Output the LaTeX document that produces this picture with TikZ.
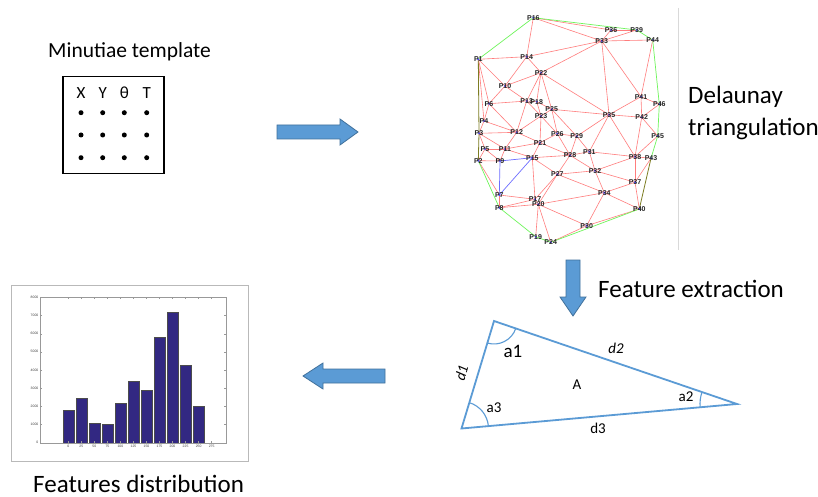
\documentclass[tikz,border=0pt]{standalone}
\usepackage{fontspec}
\setmainfont{Carlito}
\newfontfamily\labfont{Liberation Sans}
\definecolor{tri}{RGB}{91,155,213}
\definecolor{arrfill}{RGB}{91,155,213}
\definecolor{arredge}{RGB}{65,113,156}
\definecolor{redE}{RGB}{255,125,125}
\definecolor{greenE}{RGB}{110,245,90}
\definecolor{blueE}{RGB}{110,110,255}
\definecolor{olivE}{RGB}{125,125,35}
\definecolor{barc}{RGB}{50,40,130}
\tikzset{
  title/.style={font=\fontsize{25}{29}\selectfont, inner sep=0pt, anchor=base west},
  head/.style={font=\fontsize{17}{20}\selectfont, inner sep=0pt, anchor=base},
  tlab/.style={font=\labfont\bfseries\fontsize{7}{8}\selectfont, inner sep=0pt, text=black!85},
  redge/.style={draw=redE, line width=0.6pt},
  gedge/.style={draw=greenE, line width=0.7pt},
  bedge/.style={draw=blueE, line width=0.7pt},
  oedge/.style={draw=olivE, line width=0.8pt},
  blockarrow/.style={fill=arrfill, draw=arredge, line width=0.8pt, line join=miter},
  triline/.style={draw=tri, line width=1.8pt},
  triarc/.style={draw=tri, line width=1.1pt},
  tri15/.style={font=\fontsize{15}{18}\selectfont, inner sep=0pt},
  hlab/.style={font=\labfont\fontsize{3.4}{4}\selectfont, inner sep=0pt, text=black!75},
}
\begin{document}
\begin{tikzpicture}[x=1pt,y=-1pt]
\useasboundingbox (0,0) rectangle (818,497);
\fill[white] (0,0) rectangle (818,497);

% ---------- Minutiae template ----------
\node[font=\fontsize{21.5}{25}\selectfont, inner sep=0pt, anchor=base west] (mt) at (48,57.5) {Minutiae template};
\draw[line width=1.6pt] (62.7,76.7) rectangle (164,173.3);
\node[head] (hx) at (81,98.3) {X};
\node[head] (hy) at (102.7,98.3) {Y};
\node[head] (ht) at (124.3,98.3) {θ};
\node[head] (hT) at (146.7,98.3) {T};
\foreach \x in {81,102.7,124.3,146.7}
  \foreach \y in {112.7,135,157.7}
    \fill (\x,\y) circle (2.5);

% ---------- block arrows ----------
\draw[blockarrow] (277,125)--(340,125)--(340,119)--(358,132)--(340,145)--(340,139)--(277,139)--cycle;
\draw[blockarrow] (566,260)--(580,260)--(580,297)--(586,297)--(573,316)--(560,297)--(566,297)--cycle;
\draw[blockarrow] (385,369)--(323,369)--(323,363)--(303,376)--(323,389)--(323,383)--(385,383)--cycle;

% ---------- Delaunay triangulation ----------
\draw[gray!30, line width=0.8pt] (678.3,8) -- (678.3,250);
\foreach \n/\x/\y in {
 1/478.3/59.3, 2/478.3/160.7, 3/479/133.3, 4/484/121, 5/485/149, 6/489/103.7,
 7/499.3/195, 8/499.3/207.7, 9/500/161, 10/505/86, 11/505/149, 12/516.7/132.3,
 13/526.7/101, 14/526.7/56.7, 15/532.3/157.7, 16/533.3/17.7, 17/535/199.3,
 18/536.7/101.7, 19/535.7/236.7, 20/538.3/204.3, 21/540/142.7, 22/541/72.7,
 23/541/116, 24/550.7/242.3, 25/551.7/109.3, 26/557.3/133.7, 27/557.3/174.3,
 28/570/155.3, 29/576.7/136.3, 30/586.7/225.7, 31/589.3/151.7, 32/595/170.7,
 33/601.7/41, 34/604.3/192.7, 35/609/114.7, 36/611/30, 37/635/182.3,
 38/635/156.7, 39/636.7/30, 40/639.3/209, 41/641/96.7, 42/641.7/117.3,
 43/651/158.3, 44/652.7/40, 45/657.7/136, 46/659.3/104.3}
  \coordinate (P\n) at (\x,\y);

\foreach \a/\b in {1/14,16/14,16/33,14/33,16/36,36/33,36/39,39/33,33/44,14/22,22/33,
 1/10,14/10,10/22,22/35,33/35,33/41,35/41,44/41,41/46,41/42,42/46,35/42,42/45,42/38,
 45/38,35/38,38/43,43/37,38/37,37/40,
 1/6,10/6,1/4,6/4,4/3,10/13,6/13,22/13,22/18,13/18,22/25,18/25,25/35,6/12,13/12,
 4/12,3/12,13/23,18/23,12/23,25/23,23/26,25/26,25/29,26/29,29/35,23/21,12/21,21/26,
 3/11,3/5,5/11,11/12,5/2,5/9,2/9,11/9,11/21,11/15,21/15,21/28,26/28,15/28,29/28,
 29/31,28/31,31/35,31/38,31/32,32/38,32/37,28/32,28/27,27/32,15/27,27/34,32/34,
 34/37,34/40,2/7,7/17,15/17,17/27,20/27,7/8,8/17,8/20,17/20,20/34,20/30,30/34,
 30/40,20/19,20/24,24/30}
  \draw[redge] (P\a) -- (P\b);
\foreach \a/\b in {16/39,39/44,44/46,46/45,45/43,40/24,24/19,19/8,8/2,1/16}
  \draw[gedge] (P\a) -- (P\b);
\foreach \a/\b in {1/3,3/2,43/40}
  \draw[oedge] (P\a) -- (P\b);
\foreach \a/\b in {9/15,9/7,7/15}
  \draw[bedge] (P\a) -- (P\b);
\foreach \n in {1,...,46}
  \fill[blue!70] (P\n) circle (1.2);
\foreach \n in {1,...,46}
  \node[tlab] (L\n) at (P\n) {P\n};

\node[title] (dt1) at (688,103.5) {Delaunay};
\node[title] (dt2) at (688,136) {triangulation};

% ---------- Feature extraction ----------
\node[title] (fe) at (598,297) {Feature extraction};
\coordinate (T) at (494,321);
\coordinate (R) at (737,404);
\coordinate (B) at (461.5,428.5);
\draw[triline, line join=miter] (T) -- (R) -- (B) -- cycle;
\draw[triarc] (T) ++(18.85:23) arc[start angle=18.85, end angle=106.8, radius=23];
\draw[triarc] (R) ++(174.9:37) arc[start angle=174.9, end angle=198.85, radius=37];
\draw[triarc] (B) ++(-73.18:27) arc[start angle=-73.18, end angle=-5.08, radius=27];
\node[font=\fontsize{19}{22}\selectfont, inner sep=0pt] (a1) at (513,351) {a1};
\node[tri15] (d2) at (616,348) {\itshape d2};
\node[tri15, rotate=74] (d1) at (461.5,373) {\itshape d1};
\node[tri15] (A) at (577,385) {A};
\node[tri15] (a2) at (686,397) {a2};
\node[tri15] (a3) at (494,408) {a3};
\node[tri15] (d3) at (598,428) {d3};

% ---------- Histogram ----------
\draw[gray!55, line width=0.8pt] (11,285) rectangle (248,461);
\foreach \v [count=\i from 0] in {1800,2430,1070,1030,2200,3370,2900,5800,7200,4250,2030} {
  \pgfmathsetmacro\cx{68.3+\i*13.03}
  \pgfmathsetmacro\bt{442.7-\v*0.018175}
  \filldraw[fill=barc, draw=black!70, line width=0.3pt] (\cx-5.4,442.7) rectangle (\cx+5.4,\bt);
}
\draw[gray!80, line width=0.35pt] (40,297.3) rectangle (226,442.7);
\foreach \k in {0,...,8} {
  \pgfmathsetmacro\ty{442.7-\k*18.175}
  \pgfmathtruncatemacro\lab{\k*1000}
  \draw[gray!80, line width=0.3pt] (40,\ty) -- (41.6,\ty) (226,\ty) -- (224.4,\ty);
  \node[hlab, anchor=east] (yl\k) at (38.5,\ty) {\lab};
}
\foreach \k in {0,...,11} {
  \pgfmathsetmacro\tx{68.3+\k*13.03}
  \pgfmathtruncatemacro\lab{\k*25}
  \draw[gray!80, line width=0.3pt] (\tx,442.7) -- (\tx,441.1) (\tx,297.3) -- (\tx,298.9);
  \node[hlab, anchor=north] (xl\k) at (\tx,445.3) {\lab};
}
\node[title] (fd) at (33,492.5) {Features distribution};
\end{tikzpicture}
\end{document}
